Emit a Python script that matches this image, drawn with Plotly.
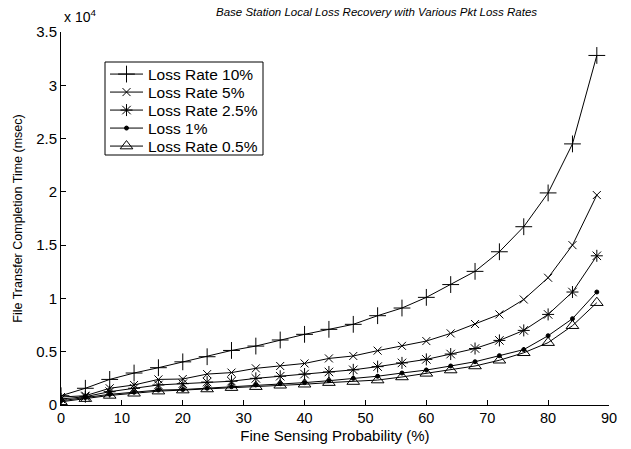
import plotly.graph_objects as go

x_prob = [0, 4, 8, 12, 16, 20, 24, 28, 32, 36, 40, 44, 48, 52, 56, 60, 64, 68, 72, 76, 80, 84, 88]

loss_10 = [870, 1570, 2400, 3000, 3500, 4050, 4530, 5120, 5530, 6100, 6630, 7100, 7570, 8380, 9100,
           10100, 11300, 12540, 14380, 16730, 19900, 24500, 32800]
loss_5 = [750, 870, 1570, 1880, 2400, 2440, 2900, 3040, 3440, 3660, 3900, 4370, 4600, 5100, 5550,
          6000, 6720, 7600, 8500, 9900, 11940, 15000, 19700]
loss_2_5 = [560, 780, 1250, 1570, 1880, 2000, 2150, 2230, 2500, 2700, 2900, 3100, 3300, 3600, 3950,
            4280, 4780, 5300, 6060, 7000, 8500, 10600, 14000]
loss_1 = [400, 700, 1000, 1200, 1400, 1450, 1570, 1720, 1880, 2000, 2100, 2280, 2500, 2700, 3000,
          3280, 3660, 4060, 4630, 5200, 6500, 8100, 10600]
loss_0_5 = [300, 600, 900, 1100, 1300, 1400, 1500, 1630, 1720, 1850, 1950, 2100, 2200, 2340, 2630,
            2970, 3280, 3660, 4200, 4900, 5850, 7440, 9600]

series_names = ["Loss Rate 10%", "Loss Rate 5%", "Loss Rate 2.5%", "Loss 1%", "Loss Rate 0.5%"]
y_tick_vals = [0, 5000, 10000, 15000, 20000, 25000, 30000, 35000]
y_tick_text = ["0", "0.5", "1", "1.5", "2", "2.5", "3", "3.5"]
x_tick_vals = [0, 10, 20, 30, 40, 50, 60, 70, 80, 90]

styles = [
    dict(symbol="cross-thin", size=12),
    dict(symbol="x-thin", size=8),
    dict(symbol="asterisk", size=10),
    dict(symbol="circle", size=4),
    dict(symbol="triangle-up-open", size=11),
]

# plot area in pixels
W, H = 631, 449
L, R, T, B = 61, 22, 32, 44
PW, PH = W - L - R, H - T - B


def px_x(p):
    return (p - L) / PW


def px_y(p):
    return (H - B - p) / PH


font_family = "Liberation Sans, Arial, Helvetica, sans-serif"

fig = go.Figure()
legend_layouts = {}
for i, (name, ys, st) in enumerate(zip(series_names, [loss_10, loss_5, loss_2_5, loss_1, loss_0_5], styles)):
    lname = "legend" if i == 0 else f"legend{i + 1}"
    fig.add_trace(go.Scatter(
        x=x_prob, y=ys, name=name, mode="lines+markers",
        line=dict(color="black", width=1),
        marker=dict(symbol=st["symbol"], size=st["size"], color="black",
                    line=dict(color="black", width=1)),
        legend=lname, showlegend=True,
    ))
    legend_layouts[lname] = dict(
        x=px_x(105), y=px_y(74.5 + 18 * i), xanchor="left", yanchor="middle",
        bgcolor="rgba(0,0,0,0)", borderwidth=0,
        font=dict(size=15.5, family=font_family, color="black"), itemwidth=33,
    )

fig.update_layout(
    width=W, height=H,
    margin=dict(l=L, r=R, t=T, b=B, autoexpand=False),
    paper_bgcolor="white", plot_bgcolor="white",
    font=dict(family=font_family, size=14, color="black"),
    showlegend=True,
    xaxis=dict(
        range=[0, 90], tickvals=x_tick_vals, ticks="inside", ticklen=5,
        tickcolor="black", showline=True, linecolor="black", linewidth=1,
        showgrid=False, zeroline=False, mirror=False, automargin=False,
        title=dict(text="Fine Sensing Probability (%)", standoff=5, font=dict(size=15)),
        tickfont=dict(size=14.5),
    ),
    yaxis=dict(
        range=[0, 35000], tickvals=y_tick_vals, ticktext=y_tick_text, ticks="inside",
        ticklen=5, tickcolor="black", showline=True, linecolor="black", linewidth=1,
        showgrid=False, zeroline=False, mirror=False, automargin=False,
        title=dict(text="File Transfer Completion Time (msec)", standoff=10, font=dict(size=12.5)),
        tickfont=dict(size=15),
    ),
    shapes=[
        dict(type="rect", xref="paper", yref="paper",
             x0=px_x(105), x1=px_x(263), y0=px_y(155), y1=px_y(62),
             line=dict(color="black", width=1), fillcolor="white", layer="above"),
    ],
    annotations=[
        dict(text="<i>Base Station Local Loss Recovery with Various Pkt Loss Rates</i>",
             x=px_x(376), y=px_y(12), xref="paper", yref="paper",
             xanchor="center", yanchor="middle", showarrow=False,
             font=dict(size=11.5, family=font_family)),
        dict(text="x 10<sup>4</sup>", x=px_x(62), y=px_y(27), xref="paper", yref="paper",
             xanchor="left", yanchor="bottom", showarrow=False,
             font=dict(size=14, family=font_family)),
    ],
    **legend_layouts,
)

fig.write_html("out.html")
